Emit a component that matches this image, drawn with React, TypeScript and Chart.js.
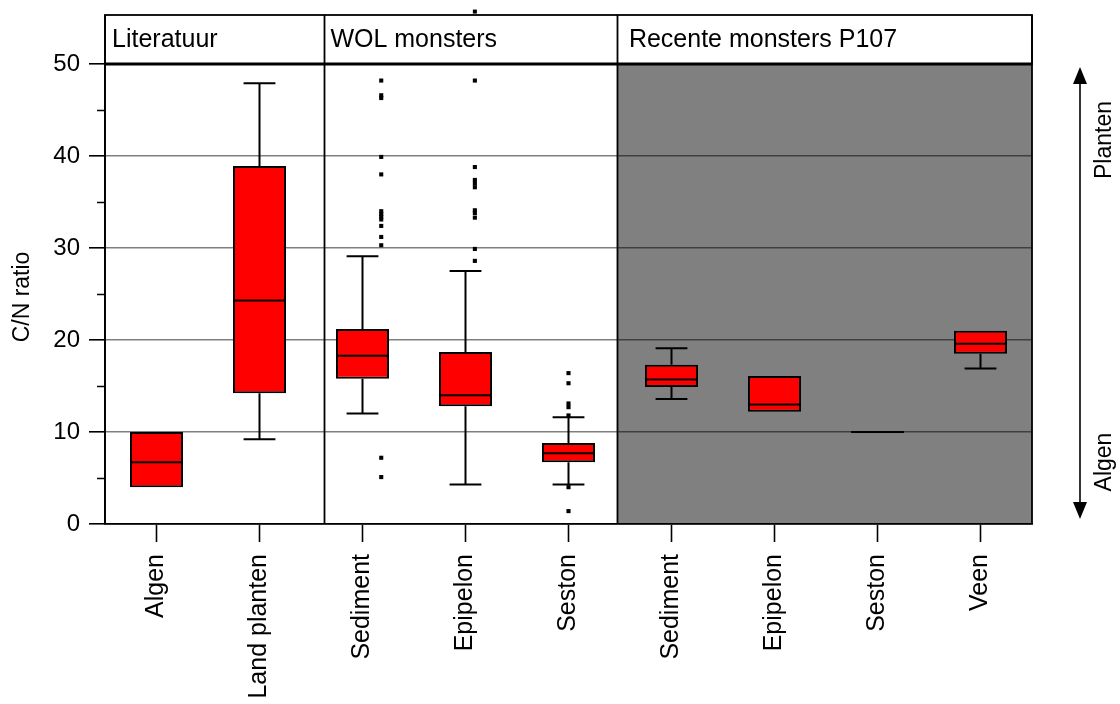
import { useEffect, useRef } from 'react';
import { Chart, registerables } from 'chart.js';

Chart.register(...registerables);

const FONT = '"Liberation Sans", Arial, Helvetica, sans-serif';

// ---- data ----
const categories = ['Algen', 'Land planten', 'Sediment', 'Epipelon', 'Seston', 'Sediment', 'Epipelon', 'Seston', 'Veen'];
const q1 = [4.0, 14.2, 15.8, 12.8, 6.7, 14.9, 12.2, 10.0, 18.5];
const median = [6.7, 24.3, 18.3, 14.0, 7.7, 15.7, 13.0, 10.0, 19.6];
const q3 = [10.0, 38.9, 21.2, 18.7, 8.8, 17.3, 16.1, 10.0, 21.0];
const whiskerLow = [4.0, 9.2, 12.0, 4.3, 4.3, 13.6, 12.2, 10.0, 16.9];
const whiskerHigh = [10.0, 47.9, 29.1, 27.5, 11.6, 19.1, 16.1, 10.0, 21.0];
const outliers: number[][] = [
  [],
  [],
  [48.2, 46.6, 46.3, 39.9, 38.0, 34.0, 33.7, 33.4, 33.1, 32.4, 31.2, 30.3, 7.2, 5.1],
  [55.7, 48.2, 38.8, 37.4, 37.0, 36.6, 34.1, 33.8, 33.3, 29.9, 28.6],
  [16.4, 15.3, 13.1, 12.7, 11.8, 4.0, 1.4],
  [],
  [],
  [],
  [],
];
const panelTitles = ['Literatuur', 'WOL monsters', 'Recente monsters P107'];
const panelStarts = [-0.5, 1.63, 4.47];
const yTicks = [0, 10, 20, 30, 40, 50];
const arrowLabels = ['Planten', 'Algen'];

export default function App() {
  const ref = useRef<HTMLCanvasElement>(null);

  useEffect(() => {
    const canvas = ref.current;
    if (!canvas) return;

    const decor = {
      id: 'decor',
      beforeDraw(chart: any) {
        const { ctx, chartArea: a, scales } = chart;
        const gx = scales.x.getPixelForValue(panelStarts[2]);
        ctx.save();
        ctx.fillStyle = '#808080';
        ctx.fillRect(gx, a.top, a.right - gx, a.bottom - a.top);
        ctx.restore();
      },
      afterDatasetsDraw(chart: any) {
        const { ctx, scales } = chart;
        const meta = chart.getDatasetMeta(0);
        ctx.save();
        ctx.strokeStyle = '#000';
        ctx.lineWidth = 2;
        categories.forEach((_, i) => {
          const el = meta.data[i];
          const cx = el.x;
          const half = el.width / 2;
          const capHalf = half * 0.6;
          const yMed = scales.y.getPixelForValue(median[i]);
          ctx.beginPath();
          ctx.moveTo(cx - half, yMed);
          ctx.lineTo(cx + half, yMed);
          ctx.stroke();
          if (whiskerHigh[i] > q3[i]) {
            const yq = scales.y.getPixelForValue(q3[i]);
            const yw = scales.y.getPixelForValue(whiskerHigh[i]);
            ctx.beginPath();
            ctx.moveTo(cx, yq);
            ctx.lineTo(cx, yw);
            ctx.moveTo(cx - capHalf, yw);
            ctx.lineTo(cx + capHalf, yw);
            ctx.stroke();
          }
          if (whiskerLow[i] < q1[i]) {
            const yq = scales.y.getPixelForValue(q1[i]);
            const yw = scales.y.getPixelForValue(whiskerLow[i]);
            ctx.beginPath();
            ctx.moveTo(cx, yq);
            ctx.lineTo(cx, yw);
            ctx.moveTo(cx - capHalf, yw);
            ctx.lineTo(cx + capHalf, yw);
            ctx.stroke();
          }
        });
        ctx.restore();
      },
      afterDraw(chart: any) {
        const { ctx, chartArea: a, scales } = chart;
        const headTop = 15;
        ctx.save();
        // header band
        ctx.fillStyle = '#fff';
        ctx.fillRect(a.left, headTop, a.right - a.left, a.top - headTop);
        ctx.strokeStyle = '#000';
        ctx.lineWidth = 1.8;
        ctx.strokeRect(a.left, headTop, a.right - a.left, a.top - headTop);
        ctx.lineWidth = 3;
        ctx.beginPath();
        ctx.moveTo(a.left, a.top);
        ctx.lineTo(a.right, a.top);
        ctx.stroke();
        // panel separators + borders
        ctx.lineWidth = 1.8;
        ctx.beginPath();
        for (let k = 1; k < panelStarts.length; k++) {
          const px = Math.round(scales.x.getPixelForValue(panelStarts[k])) + 0.5;
          ctx.moveTo(px, headTop);
          ctx.lineTo(px, a.bottom);
        }
        ctx.moveTo(a.right, headTop);
        ctx.lineTo(a.right, a.bottom);
        ctx.moveTo(a.left, headTop);
        ctx.lineTo(a.left, a.bottom);
        ctx.stroke();
        // header titles
        ctx.fillStyle = '#000';
        ctx.font = `25px ${FONT}`;
        ctx.textBaseline = 'middle';
        ctx.textAlign = 'left';
        const offs = [7, 6, 12];
        panelTitles.forEach((t, k) => {
          const px = k === 0 ? a.left : scales.x.getPixelForValue(panelStarts[k]);
          ctx.fillText(t, px + offs[k], (headTop + a.top) / 2 + 1);
        });
        // outlier above the axis range (inside header) stays visible
        const sm = chart.getDatasetMeta(1);
        ctx.fillStyle = '#000';
        sm.data.forEach((p: any) => {
          if (p.y < a.top - 2) ctx.fillRect(p.x - 2, p.y - 2, 4, 4);
        });
        // minor y ticks
        ctx.lineWidth = 1.6;
        ctx.beginPath();
        for (let v = 5; v < 50; v += 10) {
          const py = Math.round(scales.y.getPixelForValue(v)) + 0.5;
          ctx.moveTo(a.left - 8, py);
          ctx.lineTo(a.left, py);
        }
        ctx.stroke();
        // y title
        ctx.save();
        ctx.translate(23, (a.top + a.bottom) / 2 + 3);
        ctx.rotate(-Math.PI / 2);
        ctx.textAlign = 'center';
        ctx.textBaseline = 'middle';
        ctx.font = `23px ${FONT}`;
        ctx.fillText('C/N ratio', 0, 0);
        ctx.restore();
        // arrow
        const ax = 1080;
        const yTop = 67;
        const yBot = 519;
        ctx.lineWidth = 1.6;
        ctx.beginPath();
        ctx.moveTo(ax, yTop + 10);
        ctx.lineTo(ax, yBot - 10);
        ctx.stroke();
        ctx.beginPath();
        ctx.moveTo(ax, yTop);
        ctx.lineTo(ax - 7, yTop + 17);
        ctx.lineTo(ax + 7, yTop + 17);
        ctx.closePath();
        ctx.moveTo(ax, yBot);
        ctx.lineTo(ax - 7, yBot - 17);
        ctx.lineTo(ax + 7, yBot - 17);
        ctx.closePath();
        ctx.fill();
        ctx.font = `23px ${FONT}`;
        ctx.textAlign = 'center';
        ctx.textBaseline = 'middle';
        const labelY = [140, 462];
        arrowLabels.forEach((t, k) => {
          ctx.save();
          ctx.translate(1105, labelY[k]);
          ctx.rotate(-Math.PI / 2);
          ctx.fillText(t, 0, 0);
          ctx.restore();
        });
        ctx.restore();
      },
    };

    const outlierPoints: { x: number; y: number }[] = [];
    outliers.forEach((arr, i) => arr.forEach((v) => outlierPoints.push({ x: i, y: v })));

    const chart = new Chart(canvas, {
      type: 'bar',
      data: {
        labels: categories,
        datasets: [
          {
            type: 'bar',
            label: 'IQR',
            data: categories.map((_, i) => [q1[i], q3[i]]) as any,
            backgroundColor: '#ff0000',
            borderColor: '#000',
            borderWidth: 2,
            borderSkipped: false,
            grouped: false,
            barPercentage: 0.515,
            categoryPercentage: 1,
            order: 2,
          } as any,
          {
            type: 'scatter',
            label: 'Outliers',
            xAxisID: 'xo',
            data: outlierPoints as any,
            backgroundColor: '#000',
            borderWidth: 0,
            pointStyle: 'rect',
            pointRadius: 2.9,
            clip: false,
            order: 1,
          } as any,
        ],
      },
      options: {
        animation: false,
        responsive: true,
        maintainAspectRatio: false,
        layout: { padding: { left: 0, right: 88, top: 64, bottom: 0 } },
        plugins: { legend: { display: false }, tooltip: { enabled: false } },
        scales: {
          x: {
            type: 'category',
            offset: true,
            grid: {
              offset: false,
              drawOnChartArea: false,
              drawTicks: true,
              tickLength: 18,
              tickColor: '#000',
              tickWidth: 1.6,
            },
            border: { color: '#000', width: 1.8 },
            ticks: {
              maxRotation: 90,
              minRotation: 90,
              autoSkip: false,
              padding: 12,
              color: '#000',
              font: { family: FONT, size: 25 },
            },
            afterFit: (s: any) => {
              s.height = 180;
            },
          },
          xo: {
            type: 'linear',
            position: 'bottom',
            min: -0.5,
            max: categories.length - 0.5,
            display: false,
          },
          y: {
            type: 'linear',
            min: yTicks[0],
            max: yTicks[yTicks.length - 1],
            afterBuildTicks: (s: any) => {
              s.ticks = yTicks.map((v) => ({ value: v }));
            },
            grid: {
              color: 'rgba(0,0,0,0.5)',
              lineWidth: 1.6,
              tickLength: 16,
              tickColor: '#000',
              tickWidth: 1.6,
            },
            border: { color: '#000', width: 1.8 },
            ticks: {
              padding: 9,
              color: '#000',
              font: { family: FONT, size: 24 },
            },
            afterFit: (s: any) => {
              s.width = 105;
            },
          },
        },
      },
      plugins: [decor],
    });

    return () => chart.destroy();
  }, []);

  return (
    <div style={{ position: 'fixed', left: 0, top: 0, width: 1120, height: 704, background: '#fff' }}>
      <canvas ref={ref} />
    </div>
  );
}
